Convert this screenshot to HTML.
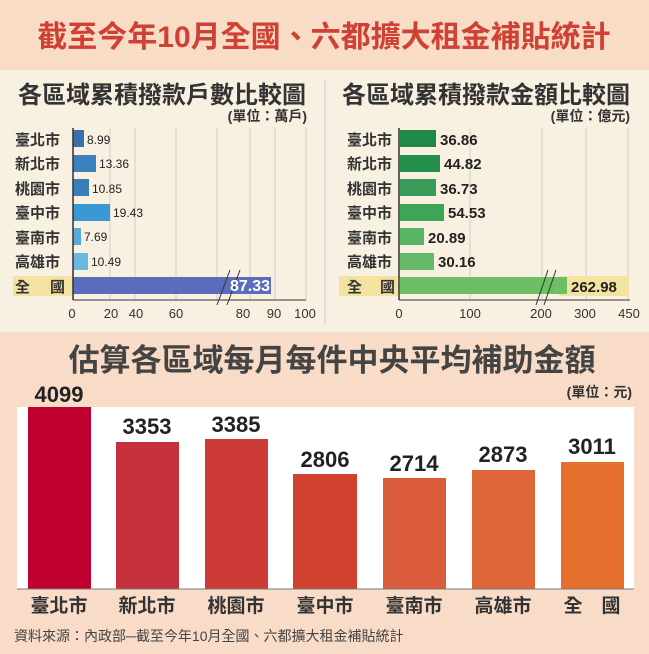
<!DOCTYPE html><html><head><meta charset="utf-8"><style>
body{margin:0;width:649px;height:654px;overflow:hidden;background:#f9dcc8}
svg{display:block}
text{font-family:"Liberation Sans","Noto Sans CJK TC",sans-serif;font-weight:bold}
text.n{font-weight:normal}
</style></head><body>
<svg width="649" height="654" viewBox="0 0 649 654">
<rect x="0" y="0" width="649" height="70" fill="#f9dcc6"/>
<text x="324" y="47" text-anchor="middle" font-size="30" fill="#cf4134">截至今年10月全國、六都擴大租金補貼統計</text>
<rect x="0" y="70" width="649" height="262" fill="#f8f1e2"/>
<line x1="325" y1="80" x2="325" y2="325" stroke="#ccc" stroke-width="1"/>
<!-- left chart -->
<text x="162" y="103" text-anchor="middle" font-size="24" fill="#333">各區域累積撥款戶數比較圖</text>
<text x="307" y="121" text-anchor="end" font-size="14" fill="#333">(單位：萬戶)</text>
<g stroke="#cfcfcf" stroke-width="1">
<line x1="110" y1="128" x2="110" y2="300"/><line x1="135" y1="128" x2="135" y2="300"/><line x1="176" y1="128" x2="176" y2="300"/><line x1="217" y1="128" x2="217" y2="300"/><line x1="250" y1="128" x2="250" y2="300"/><line x1="275" y1="128" x2="275" y2="300"/><line x1="306" y1="128" x2="306" y2="300"/>
</g>
<rect x="13" y="276" width="60" height="20" fill="#f3e2a0"/>
<g font-size="15" fill="#333">
<text x="15" y="145">臺北市</text><text x="15" y="169">新北市</text><text x="15" y="194">桃園市</text><text x="15" y="218">臺中市</text><text x="15" y="243">臺南市</text><text x="15" y="267">高雄市</text><text x="15" y="292">全</text><text x="50" y="292">國</text>
</g>
<rect x="73" y="130" width="11" height="17" fill="#3a70ae"/>
<rect x="73" y="155" width="23" height="17" fill="#3d80c0"/>
<rect x="73" y="179" width="16" height="17" fill="#3a7eb8"/>
<rect x="73" y="204" width="37" height="17" fill="#3a98d2"/>
<rect x="73" y="228" width="8" height="17" fill="#57abdc"/>
<rect x="73" y="253" width="15" height="17" fill="#6cb8e2"/>
<rect x="73" y="277" width="198" height="17" fill="#5a6dbd"/>
<line x1="73" y1="128" x2="73" y2="300" stroke="#333" stroke-width="1.5"/>
<line x1="73" y1="300" x2="306" y2="300" stroke="#333" stroke-width="1"/>
<g stroke="#333" stroke-width="1"><line x1="217" y1="305" x2="230" y2="270"/><line x1="227" y1="305" x2="240" y2="270"/></g>
<g font-size="12" fill="#222">
<text class="n" x="87" y="144">8.99</text><text class="n" x="99" y="168">13.36</text><text class="n" x="92" y="193">10.85</text><text class="n" x="113" y="217">19.43</text><text class="n" x="84" y="241">7.69</text><text class="n" x="91" y="266">10.49</text>
</g>
<text x="270" y="291" text-anchor="end" font-size="16" fill="#fff">87.33</text>
<g font-size="13" fill="#333" text-anchor="middle">
<text class="n" x="72" y="318">0</text><text class="n" x="111" y="318">20</text><text class="n" x="136" y="318">40</text><text class="n" x="176" y="318">60</text><text class="n" x="243" y="318">80</text><text class="n" x="274" y="318">90</text><text class="n" x="305" y="318">100</text>
</g>
<!-- right chart -->
<text x="486" y="103" text-anchor="middle" font-size="24" fill="#333">各區域累積撥款金額比較圖</text>
<text x="630" y="121" text-anchor="end" font-size="14" fill="#333">(單位：億元)</text>
<g stroke="#cfcfcf" stroke-width="1">
<line x1="470" y1="128" x2="470" y2="300"/><line x1="542" y1="128" x2="542" y2="300"/><line x1="586" y1="128" x2="586" y2="300"/><line x1="628" y1="128" x2="628" y2="300"/>
</g>
<rect x="339" y="276" width="60" height="20" fill="#f3e2a0"/>
<rect x="559" y="276" width="70" height="20" fill="#f3e2a0"/>
<g font-size="15" fill="#333">
<text x="347" y="145">臺北市</text><text x="347" y="169">新北市</text><text x="347" y="194">桃園市</text><text x="347" y="218">臺中市</text><text x="347" y="243">臺南市</text><text x="347" y="267">高雄市</text><text x="347" y="292">全</text><text x="380" y="292">國</text>
</g>
<rect x="400" y="130" width="36" height="17" fill="#1f8a48"/>
<rect x="400" y="155" width="40" height="17" fill="#238f4b"/>
<rect x="400" y="179" width="36" height="17" fill="#3a9a57"/>
<rect x="400" y="204" width="44" height="17" fill="#3da556"/>
<rect x="400" y="228" width="24" height="17" fill="#58b462"/>
<rect x="400" y="253" width="34" height="17" fill="#66b96b"/>
<rect x="400" y="277" width="167" height="17" fill="#6cbf62"/>
<line x1="399" y1="128" x2="399" y2="300" stroke="#333" stroke-width="1.5"/>
<line x1="399" y1="300" x2="630" y2="300" stroke="#333" stroke-width="1"/>
<g stroke="#333" stroke-width="1"><line x1="536" y1="305" x2="548" y2="270"/><line x1="544" y1="305" x2="556" y2="270"/></g>
<g font-size="15" fill="#222">
<text x="440" y="145">36.86</text><text x="444" y="169">44.82</text><text x="440" y="194">36.73</text><text x="448" y="218">54.53</text><text x="428" y="243">20.89</text><text x="438" y="267">30.16</text><text x="571" y="292">262.98</text>
</g>
<g font-size="13" fill="#333" text-anchor="middle">
<text class="n" x="399" y="318">0</text><text class="n" x="470" y="318">100</text><text class="n" x="541" y="318">200</text><text class="n" x="585" y="318">300</text><text class="n" x="629" y="318">450</text>
</g>
<!-- bottom chart -->
<rect x="0" y="332" width="649" height="322" fill="#f9dcc8"/>
<text x="332" y="371" text-anchor="middle" font-size="31" fill="#444">估算各區域每月每件中央平均補助金額</text>
<text x="632" y="397" text-anchor="end" font-size="14" fill="#333">(單位：元)</text>
<rect x="17" y="407" width="617" height="182" fill="#fff"/>
<rect x="28" y="407" width="63" height="182" fill="#c0002e"/>
<rect x="116" y="442" width="63" height="147" fill="#c4303c"/>
<rect x="205" y="439" width="63" height="150" fill="#cc3b36"/>
<rect x="293" y="474" width="64" height="115" fill="#d0412f"/>
<rect x="383" y="478" width="63" height="111" fill="#da5c3c"/>
<rect x="472" y="470" width="63" height="119" fill="#df6638"/>
<rect x="561" y="462" width="63" height="127" fill="#e5702d"/>
<line x1="17" y1="589" x2="634" y2="589" stroke="#777" stroke-width="1"/>
<g font-size="22" fill="#222" text-anchor="middle">
<text x="59" y="402">4099</text><text x="147" y="434">3353</text><text x="236" y="432">3385</text><text x="325" y="467">2806</text><text x="414" y="471">2714</text><text x="503" y="462">2873</text><text x="592" y="454">3011</text>
</g>
<g font-size="19" fill="#333" text-anchor="middle">
<text x="59" y="612">臺北市</text><text x="147" y="612">新北市</text><text x="236" y="612">桃園市</text><text x="325" y="612">臺中市</text><text x="414" y="612">臺南市</text><text x="503" y="612">高雄市</text><text x="592" y="612">全　國</text>
</g>
<text class="n" x="14" y="641" font-size="14" fill="#444">資料來源：內政部─截至今年10月全國、六都擴大租金補貼統計</text>
</svg>
</body></html>
